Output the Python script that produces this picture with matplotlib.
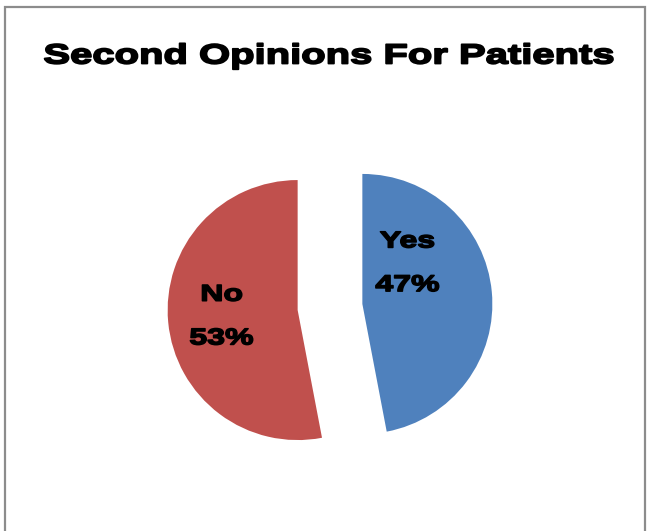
import matplotlib.pyplot as plt
from matplotlib.patches import Rectangle
from matplotlib import patheffects
from matplotlib.transforms import Affine2D

labels = ['Yes', 'No']
shares = [47, 53]
colors = ['#4F81BD', '#C0504D']

plt.rcParams['font.family'] = ['Liberation Sans', 'DejaVu Sans']


class WideText(patheffects.AbstractPathEffect):
    """Stretch glyphs horizontally about a fixed x (display pixels) and
    thicken them with an outline of the same colour."""

    def __init__(self, sx, cx, lw=1.0):
        super().__init__()
        self.sx = sx
        self.cx = cx
        self.lw = lw

    def draw_path(self, renderer, gc, tpath, affine, rgbFace=None):
        stretch = Affine2D().translate(-self.cx, 0).scale(self.sx, 1).translate(self.cx, 0)
        gc0 = renderer.new_gc()
        gc0.copy_properties(gc)
        gc0.set_linewidth(self.lw)
        gc0.set_foreground(rgbFace if rgbFace is not None else 'black')
        gc0.set_joinstyle('round')
        renderer.draw_path(gc0, tpath, affine + stretch, rgbFace)
        gc0.restore()


fig = plt.figure(figsize=(6.48, 5.31), dpi=100)
fig.patch.set_facecolor('white')

# grey chart-area border (bottom edge runs off the canvas)
fig.patches.append(Rectangle((5 / 648, -0.05), 640 / 648, 1.05 - 7 / 531,
                             transform=fig.transFigure, fill=False,
                             edgecolor='#8c8c8c', linewidth=1.6))

title_x = 329
fig.text(title_x / 648, 1 - 63.5 / 531, 'Second Opinions For Patients',
         ha='center', va='baseline', fontsize=20, fontweight='bold',
         path_effects=[WideText(1.44, title_x, lw=1.3)])

# radius of 1 data unit = 130 px
ax = fig.add_axes([(330 - 208) / 648, (224 - 208) / 531, 416 / 648, 416 / 531])
wedges, _ = ax.pie(shares, colors=colors, startangle=90, counterclock=False,
                   explode=[0.25, 0.25], radius=1.0)
ax.set_xlim(-1.6, 1.6)
ax.set_ylim(-1.6, 1.6)
ax.set_aspect('equal')
ax.axis('off')

label_pos = [(0.596, 0.34), (-0.835, -0.07)]
for name, val, (x, y) in zip(labels, shares, label_pos):
    cx = ax.transData.transform((x, y))[0]
    ax.text(x, y, f'{name}\n{val}%', ha='center', va='center',
            fontsize=16.5, fontweight='bold', linespacing=2.15,
            path_effects=[WideText(1.4, cx, lw=1.1)])

fig.savefig('out.png', dpi=100)
